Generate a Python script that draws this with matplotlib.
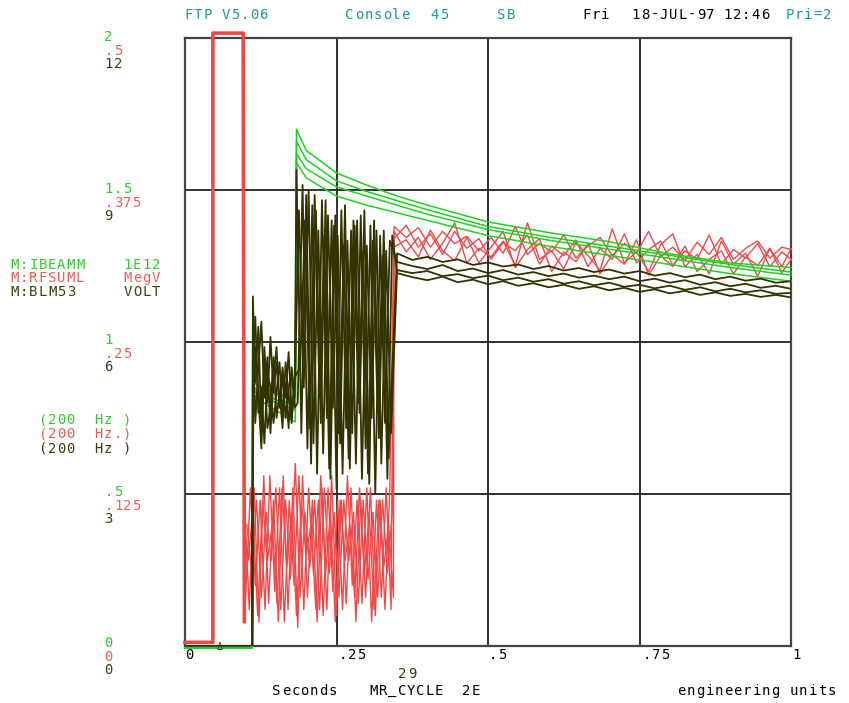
import matplotlib
matplotlib.use("Agg")
import matplotlib.pyplot as plt

# ---- data -------------------------------------------------------------
# M:IBEAMM (1E12), scale 0..2
green_t = [0.0, 0.111, 0.113, 0.13, 0.15, 0.17, 0.182, 0.184, 0.2, 0.25, 0.3,
           0.35, 0.4, 0.5, 0.6, 0.7, 0.8, 0.9, 1.0]
green_traces = [
    [-0.006, -0.006, 0.865, 0.85, 0.83, 0.82, 0.81, 1.70, 1.63, 1.556, 1.516,
     1.48, 1.45, 1.395, 1.36, 1.33, 1.29, 1.26, 1.245],
    [-0.006, -0.006, 0.85, 0.83, 0.81, 0.80, 0.79, 1.66, 1.60, 1.53, 1.495,
     1.465, 1.435, 1.38, 1.345, 1.315, 1.285, 1.255, 1.23],
    [-0.006, -0.006, 0.84, 0.82, 0.80, 0.785, 0.775, 1.62, 1.57, 1.51, 1.48,
     1.45, 1.42, 1.37, 1.335, 1.305, 1.275, 1.245, 1.22],
    [-0.006, -0.006, 0.826, 0.80, 0.775, 0.75, 0.737, 1.59, 1.54, 1.48, 1.45,
     1.425, 1.40, 1.35, 1.315, 1.285, 1.255, 1.225, 1.20],
]

# M:RFSUML (MegV), scale 0..0.5
red_pulse_t = [0.0, 0.046, 0.046, 0.096, 0.098]
red_pulse_v = [0.003, 0.003, 0.504, 0.504, 0.02]
red_osc_t = [0.098, 0.106, 0.114, 0.122, 0.130, 0.138, 0.146, 0.154, 0.162,
             0.170, 0.178, 0.186, 0.194, 0.202, 0.210, 0.218, 0.226, 0.234,
             0.242, 0.250, 0.258, 0.266, 0.274, 0.282, 0.290, 0.298, 0.306,
             0.314, 0.322, 0.330, 0.338]
red_phase = [0.0, 0.002, 0.004, 0.006]
red_osc = [
    [0.12, 0.03, 0.13, 0.02, 0.14, 0.035, 0.12, 0.02, 0.14, 0.03, 0.13, 0.015,
     0.14, 0.04, 0.12, 0.02, 0.13, 0.03, 0.14, 0.025, 0.12, 0.035, 0.13, 0.02,
     0.12, 0.04, 0.13, 0.025, 0.12, 0.03, 0.13],
    [0.04, 0.13, 0.05, 0.12, 0.03, 0.14, 0.045, 0.13, 0.02, 0.12, 0.05, 0.14,
     0.03, 0.13, 0.06, 0.12, 0.025, 0.13, 0.045, 0.12, 0.03, 0.14, 0.05, 0.12,
     0.035, 0.13, 0.02, 0.12, 0.04, 0.13, 0.03],
    [0.10, 0.06, 0.12, 0.04, 0.11, 0.07, 0.13, 0.03, 0.12, 0.055, 0.15, 0.04,
     0.11, 0.065, 0.12, 0.03, 0.13, 0.06, 0.11, 0.04, 0.12, 0.07, 0.11, 0.035,
     0.12, 0.055, 0.11, 0.04, 0.12, 0.06, 0.11],
    [0.07, 0.11, 0.025, 0.12, 0.07, 0.10, 0.035, 0.13, 0.065, 0.11, 0.025, 0.12,
     0.075, 0.10, 0.03, 0.14, 0.06, 0.11, 0.02, 0.12, 0.07, 0.10, 0.04, 0.13,
     0.06, 0.11, 0.03, 0.12, 0.065, 0.10, 0.04],
]
red_tail_t = [0.345, 0.365, 0.385, 0.405, 0.425, 0.445, 0.465, 0.485, 0.505,
              0.525, 0.545, 0.565, 0.585, 0.605, 0.625, 0.645, 0.665, 0.685,
              0.705, 0.725, 0.745, 0.765, 0.785, 0.805, 0.825, 0.845, 0.865,
              0.885, 0.905, 0.925, 0.945, 0.965, 0.985, 1.0]
red_tail = [
    [0.345, 0.336, 0.344, 0.328, 0.341, 0.331, 0.337, 0.325, 0.336, 0.323,
     0.345, 0.322, 0.331, 0.324, 0.338, 0.319, 0.329, 0.336, 0.321, 0.331,
     0.323, 0.341, 0.320, 0.328, 0.317, 0.332, 0.322, 0.336, 0.318, 0.327,
     0.333, 0.319, 0.328, 0.326],
    [0.335, 0.346, 0.328, 0.339, 0.322, 0.341, 0.327, 0.335, 0.318, 0.332,
     0.325, 0.338, 0.314, 0.329, 0.321, 0.334, 0.312, 0.327, 0.318, 0.339,
     0.315, 0.326, 0.333, 0.313, 0.325, 0.318, 0.338, 0.314, 0.326, 0.319,
     0.331, 0.312, 0.324, 0.318],
    [0.328, 0.334, 0.320, 0.342, 0.325, 0.317, 0.336, 0.315, 0.328, 0.341,
     0.311, 0.326, 0.335, 0.308, 0.324, 0.316, 0.331, 0.306, 0.322, 0.314,
     0.334, 0.305, 0.321, 0.312, 0.329, 0.308, 0.318, 0.325, 0.306, 0.320,
     0.313, 0.327, 0.307, 0.318],
    [0.341, 0.324, 0.336, 0.318, 0.331, 0.348, 0.315, 0.327, 0.320, 0.333,
     0.313, 0.348, 0.318, 0.325, 0.310, 0.332, 0.321, 0.309, 0.343, 0.315,
     0.324, 0.308, 0.330, 0.339, 0.312, 0.322, 0.306, 0.333, 0.314, 0.323,
     0.304, 0.327, 0.312, 0.327],
]

# M:BLM53 (VOLT), scale 0..12
black_base_t = [0.0, 0.111]
black_base_v = [0.0, 0.0]
black_t1 = [0.112, 0.116, 0.121, 0.126, 0.131, 0.136, 0.141, 0.146, 0.151,
            0.156, 0.161, 0.166, 0.171, 0.176, 0.181]
black_seg1 = [
    [6.9, 5.2, 6.3, 4.3, 5.9, 4.8, 6.1, 5.0, 5.6, 4.7, 5.5, 4.9, 5.8, 4.6, 5.2],
    [6.2, 4.4, 5.5, 6.4, 4.9, 5.7, 4.2, 5.3, 5.9, 4.8, 5.3, 4.5, 5.1, 5.4, 4.7],
    [5.6, 6.5, 4.6, 5.1, 4.0, 5.4, 5.1, 4.4, 5.0, 5.6, 4.6, 5.2, 4.3, 5.5, 4.9],
    [4.4, 5.9, 5.0, 3.9, 5.5, 4.3, 4.7, 5.7, 4.5, 5.0, 4.3, 5.6, 4.9, 4.4, 5.3],
]
black_t2 = [0.184, 0.192, 0.200, 0.208, 0.216, 0.224, 0.232, 0.240, 0.248,
            0.256, 0.264, 0.272, 0.280, 0.288, 0.296, 0.304, 0.312, 0.320,
            0.328, 0.336]
black_phase = [0.0, 0.002, 0.004, 0.006]
black_seg2 = [
    [9.4, 4.2, 8.9, 3.6, 8.6, 4.4, 8.8, 3.3, 8.5, 4.0, 8.7, 3.5, 8.3, 4.6, 8.6,
     3.2, 8.4, 4.1, 8.2, 3.7],
    [4.8, 9.1, 3.9, 8.7, 3.4, 8.8, 4.5, 8.4, 3.1, 8.6, 4.3, 8.2, 3.6, 8.5, 3.9,
     8.3, 3.0, 8.1, 4.4, 8.0],
    [8.6, 5.1, 9.0, 4.0, 8.2, 3.8, 8.5, 4.7, 8.1, 3.4, 8.0, 4.2, 8.4, 3.3, 7.9,
     4.5, 8.2, 3.6, 7.8, 4.2],
    [5.5, 8.4, 4.3, 8.9, 4.9, 8.1, 3.5, 8.3, 4.2, 7.9, 3.7, 8.4, 4.8, 7.8, 3.4,
     8.0, 4.6, 7.7, 3.3, 8.1],
]
black_t3 = [0.35, 0.375, 0.40, 0.425, 0.45, 0.475, 0.50, 0.525, 0.55, 0.575,
            0.60, 0.625, 0.65, 0.675, 0.70, 0.725, 0.75, 0.775, 0.80, 0.825,
            0.85, 0.875, 0.90, 0.925, 0.95, 0.975, 1.0]
black_seg3 = [
    [7.75, 7.62, 7.68, 7.58, 7.63, 7.52, 7.57, 7.49, 7.53, 7.44, 7.50, 7.41,
     7.46, 7.38, 7.43, 7.35, 7.40, 7.31, 7.36, 7.28, 7.33, 7.24, 7.29, 7.21,
     7.25, 7.17, 7.20],
    [7.58, 7.50, 7.44, 7.52, 7.40, 7.45, 7.36, 7.42, 7.33, 7.38, 7.30, 7.35,
     7.27, 7.31, 7.24, 7.29, 7.20, 7.25, 7.17, 7.22, 7.13, 7.18, 7.10, 7.15,
     7.07, 7.11, 7.05],
    [7.42, 7.36, 7.40, 7.30, 7.34, 7.26, 7.31, 7.22, 7.27, 7.19, 7.24, 7.15,
     7.20, 7.12, 7.17, 7.09, 7.13, 7.06, 7.11, 7.03, 7.08, 7.00, 7.05, 6.98,
     7.02, 6.95, 6.97],
    [7.36, 7.28, 7.22, 7.29, 7.18, 7.23, 7.14, 7.20, 7.11, 7.16, 7.08, 7.13,
     7.05, 7.10, 7.02, 7.07, 6.99, 7.04, 6.96, 7.01, 6.93, 6.98, 6.91, 6.95,
     6.89, 6.93, 6.88],
]

# axis labels
x_ticks = [0, 0.25, 0.5, 0.75, 1.0]
x_labels = ["0", ".25", ".5", ".75", "1"]
green_labels = ["0", ".5", "1", "1.5", "2"]
red_labels = ["0", ".125", ".25", ".375", ".5"]
black_labels = ["0", "3", "6", "9", "12"]

GREEN = "#1fd21f"
GREEN_TXT = "#2ecc2e"
RED = "#f04848"
RED_TXT = "#f45a5a"
OLIVE = "#333300"
OLIVE_TXT = "#3d3d15"
TEAL = "#1a9999"
MONO = "DejaVu Sans Mono"
FS = 10
CELL = 9.35  # terminal character cell width in pixels

W, H = 849, 703
fig = plt.figure(figsize=(W / 100, H / 100), dpi=100)


def ftext(x, y, s, color):
    # terminal style text: one character per fixed-width cell
    for i, ch in enumerate(s):
        if ch == " ":
            continue
        fig.text((x + (i + 0.5) * CELL) / W, 1 - y / H, ch, color=color,
                 family=MONO, fontsize=FS, va="center", ha="center")


rect = [185 / W, 57 / H, 606 / W, 608 / H]
ax = fig.add_axes(rect)
ax.set_xlim(0, 1)
ax.set_ylim(0, 2)
ax.set_xticks([])
ax.set_yticks([])
for sp in ax.spines.values():
    sp.set_color("#444444")
    sp.set_linewidth(1.6)
for xv in x_ticks[1:-1]:
    ax.axvline(xv, color="#222222", lw=1.3, zorder=0)
for yv in [0.5, 1.0, 1.5]:
    ax.axhline(yv, color="#222222", lw=1.3, zorder=0)


def overlay(ymax):
    a = fig.add_axes(rect, sharex=ax)
    a.set_ylim(0, ymax)
    a.patch.set_visible(False)
    a.axis("off")
    return a


ax_r = overlay(0.5)
ax_g = overlay(2.0)
ax_b = overlay(12.0)

# red: pulse, oscillation, decay
ax_r.plot(red_pulse_t, red_pulse_v, color=RED, lw=2.6, clip_on=False)
for osc, tail, ph in zip(red_osc, red_tail, red_phase):
    t = [v + ph for v in red_osc_t] + red_tail_t
    ax_r.plot(t, osc + tail, color=RED, lw=1.0, clip_on=False)

# green
for tr in green_traces:
    ax_g.plot(green_t, tr, color=GREEN, lw=1.1, clip_on=False)

# black
for s1, s2, s3, ph in zip(black_seg1, black_seg2, black_seg3, black_phase):
    t = black_base_t + black_t1 + [v + ph for v in black_t2] + black_t3
    ax_b.plot(t, black_base_v + s1 + s2 + s3, color=OLIVE, lw=1.3)

# header
ftext(184, 15, "FTP V5.06", TEAL)
ftext(345, 15, "Console", TEAL)
ftext(430, 15, "45", TEAL)
ftext(497, 15, "SB", TEAL)
ftext(582, 15, "Fri", "black")
ftext(631, 15, "18-JUL-97", "black")
ftext(723, 15, "12:46", "black")
ftext(785, 15, "Pri=2", TEAL)

# left scale labels
for i, yv in enumerate([643, 492, 340, 189, 37]):
    ftext(104, yv, green_labels[i], GREEN_TXT)
    ftext(104, yv + 14, red_labels[i], RED_TXT)
    ftext(104, yv + 27, black_labels[i], OLIVE_TXT)

ftext(10, 265, "M:IBEAMM", GREEN_TXT)
ftext(123, 265, "1E12", GREEN_TXT)
ftext(10, 278, "M:RFSUML", RED_TXT)
ftext(123, 278, "MegV", RED_TXT)
ftext(10, 292, "M:BLM53", OLIVE_TXT)
ftext(123, 292, "VOLT", OLIVE_TXT)
ftext(38, 420, "(200  Hz )", GREEN_TXT)
ftext(38, 434, "(200  Hz.)", RED_TXT)
ftext(38, 449, "(200  Hz )", OLIVE_TXT)

# bottom labels
for xv, lab in zip([185, 338, 488, 642, 792], x_labels):
    ftext(xv, 655, lab, "black")
fig.text(220 / W, 1 - 647 / H, "\u0394", color=OLIVE_TXT, family=MONO,
         fontsize=7, va="center", ha="center")
ftext(398, 674, "29", OLIVE_TXT)
ftext(272, 691, "Seconds", "black")
ftext(369, 691, "MR_CYCLE", "black")
ftext(462, 691, "2E", "black")
ftext(677, 691, "engineering units", "black")

fig.savefig("out.png", dpi=100, facecolor="white")
